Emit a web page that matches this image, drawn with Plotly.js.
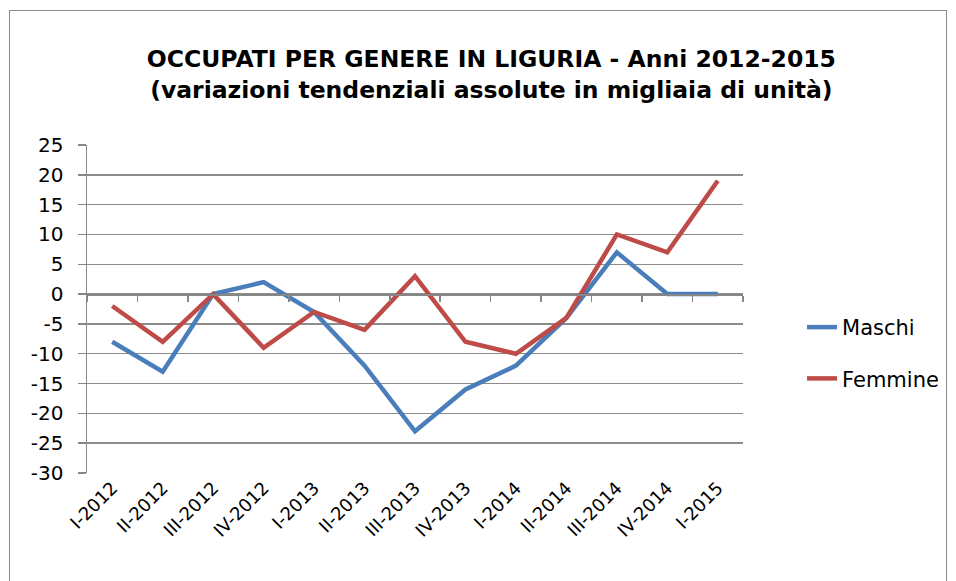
<!DOCTYPE html>
<html>
<head>
<meta charset="utf-8">
<script src="https://cdn.plot.ly/plotly-3.0.1.min.js"></script>
<style>
  body { margin: 0; background: #fff; }
  #frame { position: absolute; left: 9px; top: 10px; width: 938px; height: 580px; border: 1px solid #8c8c8c; box-sizing: border-box; }
  #chart { position: absolute; left: 0; top: 0; width: 956px; height: 581px; }
</style>
</head>
<body>
<div id="frame"></div>
<div id="chart"></div>
<script>
const categories = ["I-2012","II-2012","III-2012","IV-2012","I-2013","II-2013","III-2013","IV-2013","I-2014","II-2014","III-2014","IV-2014","I-2015"];
const maschi  = [-8, -13, 0, 2, -3, -12, -23, -16, -12, -4, 7, 0, 0];
const femmine = [-2, -8, 0, -9, -3, -6, 3, -8, -10, -4, 10, 7, 19];
const yTicks = [-30, -25, -20, -15, -10, -5, 0, 5, 10, 15, 20, 25];

const yMin = -30, yMax = 25;
const font = "'DejaVu Sans', sans-serif";

const traces = [
  { x: categories, y: maschi, name: "Maschi", type: "scatter", mode: "lines",
    line: { color: "#4A7EBB", width: 4.5 }, legendgroup: "a", xaxis: "x", yaxis: "y" },
  { x: categories, y: femmine, name: "Femmine", type: "scatter", mode: "lines",
    line: { color: "#BE4B48", width: 4.5 }, legendgroup: "b", xaxis: "x2", yaxis: "y" }
];

const layout = {
  width: 956, height: 581,
  paper_bgcolor: "rgba(0,0,0,0)", plot_bgcolor: "rgba(0,0,0,0)",
  margin: { l: 87, r: 213, t: 145, b: 108 },
  font: { family: font, color: "#000" },
  title: {
    text: "<b>OCCUPATI PER GENERE IN LIGURIA - Anni 2012-2015</b><br><b>(variazioni tendenziali assolute in migliaia di unità)</b>",
    font: { family: font, size: 23.5, color: "#000" },
    xref: "container", x: 0.514, xanchor: "center",
    yref: "container", y: 1 - 67 / 581, yanchor: "middle"
  },
  xaxis: {
    type: "category", categoryorder: "array", categoryarray: categories,
    range: [-0.5, categories.length - 0.5],
    showgrid: false, zeroline: false, showline: false, ticks: "",
    tickangle: -45, tickfont: { family: font, size: 18, color: "#000" },
    fixedrange: true
  },
  xaxis2: {
    type: "category", categoryorder: "array", categoryarray: categories,
    range: [-0.5, categories.length - 0.5],
    overlaying: "x", anchor: "free", position: (0 - yMin) / (yMax - yMin),
    showgrid: false, zeroline: false, showline: true, linecolor: "#868686", linewidth: 1.5,
    ticks: "outside", tickson: "boundaries", ticklen: 6, tickcolor: "#868686", tickwidth: 1.5,
    showticklabels: false, fixedrange: true
  },
  yaxis: {
    range: [yMin, yMax], tickvals: yTicks, ticktext: yTicks.map(String),
    showgrid: true, gridcolor: "#8c8c8c", gridwidth: 1.5,
    zeroline: false, showline: true, linecolor: "#868686", linewidth: 1.5,
    ticks: "outside", ticklen: 8, tickcolor: "#868686", tickwidth: 1.5,
    ticklabelstandoff: 10,
    tickfont: { family: font, size: 20, color: "#000" },
    fixedrange: true
  },
  showlegend: true,
  legend: {
    x: 1.09, xanchor: "left", y: 0.366, yanchor: "middle",
    traceorder: "grouped", tracegroupgap: 21,
    font: { family: font, size: 21, color: "#000" },
    bgcolor: "rgba(0,0,0,0)"
  }
};

Plotly.newPlot("chart", traces, layout, { displayModeBar: false, staticPlot: true });
</script>
</body>
</html>
